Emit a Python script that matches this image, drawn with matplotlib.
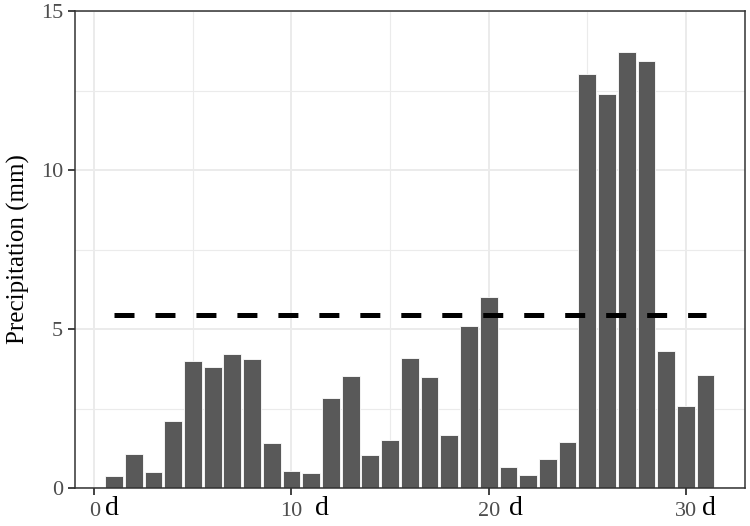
import matplotlib
matplotlib.use("Agg")
import matplotlib.pyplot as plt

plt.rcParams['font.family'] = ['Liberation Serif', 'DejaVu Serif']

# daily precipitation (mm)
days = list(range(1, 32))
precip = [0.39, 1.08, 0.49, 2.11, 3.98, 3.79, 4.21, 4.06, 1.42, 0.53,
          0.46, 2.84, 3.53, 1.03, 1.50, 4.10, 3.50, 1.68, 5.09, 6.01,
          0.67, 0.41, 0.90, 1.44, 13.01, 12.38, 13.71, 13.43, 4.32, 2.57,
          3.55]
ref_level = 5.43
xticks = [0, 10, 20, 30]
yticks = [0, 5, 10, 15]

fig = plt.figure(figsize=(7.5, 5.26), dpi=100)
ax = fig.add_axes([75 / 750, 38 / 526, 670 / 750, 477 / 526])

ax.bar(days, precip, width=0.9, color='#595959', edgecolor='white',
       linewidth=0.6, zorder=2)
lw = 3.6
ax.hlines(ref_level, days[0], days[-1], colors='black',
          linestyles=(0, (14.4 / lw, 15.1 / lw)), linewidth=lw, zorder=3)

ax.set_xlim(-0.98, 33.0)
ax.set_ylim(0, 15)
ax.set_xticks(xticks)
ax.set_yticks(yticks)
ax.set_xticks([5, 15, 25], minor=True)
ax.set_yticks([2.5, 7.5, 12.5], minor=True)
ax.grid(True, which='major', color='#EBEBEB', linewidth=1.4, zorder=0)
ax.grid(True, which='minor', color='#EBEBEB', linewidth=0.8, zorder=0)
ax.set_axisbelow(True)
ax.tick_params(which='minor', length=0)
ax.tick_params(which='major', length=5, width=1.3, color='#333333',
               labelsize=16, labelcolor='#4D4D4D')
ax.tick_params(axis='x', pad=5)

for s in ax.spines.values():
    s.set_color('#333333')
    s.set_linewidth(1.1)

# unit suffix after each x tick number
for t, off in zip(xticks, [8, 17, 14.5, 11.5]):
    ax.annotate('d', xy=(t, 0), xycoords=('data', 'axes fraction'),
                xytext=(off, -6), textcoords='offset points',
                ha='left', va='top', fontsize=20, color='black')

ax.set_ylabel('Precipitation (mm)', fontsize=18, labelpad=8)

fig.savefig('out.png', dpi=100)
